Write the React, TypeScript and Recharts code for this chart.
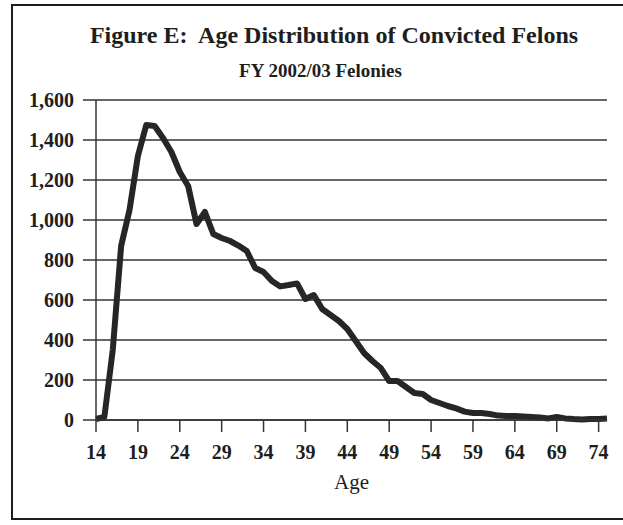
import { CartesianGrid, Line, LineChart, XAxis, YAxis } from "recharts";

// ages 14..75 and number of convicted felons per age
const ages = [
  14, 15, 16, 17, 18, 19, 20, 21, 22, 23, 24, 25, 26, 27, 28, 29, 30, 31, 32, 33, 34,
  35, 36, 37, 38, 39, 40, 41, 42, 43, 44, 45, 46, 47, 48, 49, 50, 51, 52, 53, 54, 55,
  56, 57, 58, 59, 60, 61, 62, 63, 64, 65, 66, 67, 68, 69, 70, 71, 72, 73, 74, 75,
];
const felons = [
  5, 15, 350, 870, 1050, 1320, 1475, 1470, 1410, 1340, 1240, 1170, 980, 1040, 930, 910,
  895, 872, 845, 760, 740, 695, 668, 675, 683, 605, 625, 555, 525, 495, 455, 395, 335,
  295, 260, 195, 195, 165, 135, 130, 100, 85, 70, 58, 42, 35, 35, 30, 22, 20, 20, 18,
  15, 12, 8, 15, 8, 5, 3, 5, 5, 8,
];
const yTicks = [0, 200, 400, 600, 800, 1000, 1200, 1400, 1600];

const title = "Figure E:  Age Distribution of Convicted Felons";
const subtitle = "FY 2002/03 Felonies";

const font = '"Liberation Serif", "Times New Roman", serif';
const ink = "#1e1e1e";

export default function App() {
  const data = ages.map((age, i) => ({ age, value: felons[i] }));

  return (
    <div
      style={{
        position: "absolute",
        left: 0,
        top: 0,
        width: 623,
        height: 525,
        background: "#fff",
        overflow: "hidden",
        fontFamily: font,
      }}
    >
      <div
        style={{
          position: "absolute",
          left: 11,
          top: 4,
          width: 640,
          height: 516,
          border: `2px solid ${ink}`,
          boxSizing: "border-box",
        }}
      />
      <div
        style={{
          position: "absolute",
          left: 0,
          top: 22,
          width: 668,
          textAlign: "center",
          fontSize: 24,
          fontWeight: "bold",
          color: ink,
          whiteSpace: "pre",
        }}
      >
        {title}
      </div>
      <div
        style={{
          position: "absolute",
          left: 0,
          top: 60,
          width: 641,
          textAlign: "center",
          fontSize: 19,
          fontWeight: "bold",
          color: ink,
        }}
      >
        {subtitle}
      </div>
      <LineChart
        width={623}
        height={525}
        data={data}
        margin={{ top: 100, right: 16, bottom: 30, left: 0 }}
        style={{ position: "absolute", left: 0, top: 0 }}
      >
        <CartesianGrid vertical={false} stroke="#333" strokeWidth={1.5} />
        <XAxis
          dataKey="age"
          interval={4}
          height={75}
          tickSize={12}
          tickMargin={13}
          axisLine={{ stroke: "#333", strokeWidth: 1.5 }}
          tickLine={{ stroke: "#333", strokeWidth: 1.5 }}
          tick={{ fill: ink, fontSize: 20, fontWeight: "bold", fontFamily: font }}
          label={{
            value: "Age",
            position: "insideBottom",
            offset: 6,
            fill: ink,
            fontSize: 21,
            fontFamily: font,
          }}
        />
        <YAxis
          width={96}
          domain={[0, 1600]}
          ticks={yTicks}
          tickSize={13}
          tickMargin={9}
          tickFormatter={(v: number) => v.toLocaleString("en-US")}
          axisLine={{ stroke: "#333", strokeWidth: 1.5 }}
          tickLine={{ stroke: "#333", strokeWidth: 1.5 }}
          tick={{ fill: ink, fontSize: 20, fontWeight: "bold", fontFamily: font }}
        />
        <Line
          type="linear"
          dataKey="value"
          stroke="#262626"
          strokeWidth={6}
          strokeLinejoin="round"
          dot={false}
          isAnimationActive={false}
        />
      </LineChart>
    </div>
  );
}
